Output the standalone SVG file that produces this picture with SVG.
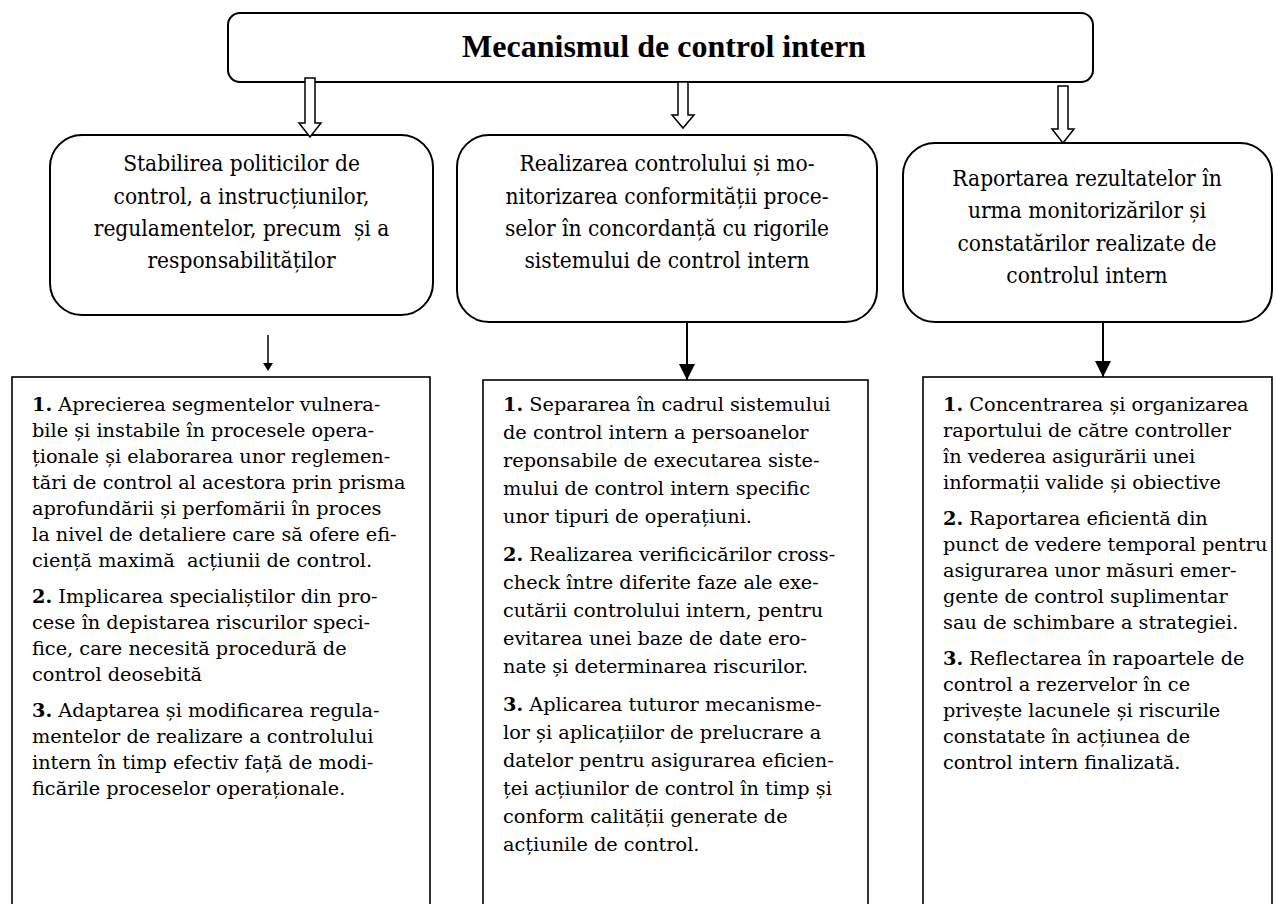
<svg xmlns="http://www.w3.org/2000/svg" width="1277" height="904" viewBox="0 0 1277 904">
<defs>
<style>
.box{fill:#fff;stroke:#000;stroke-width:2}
.rbox{fill:#fff;stroke:#000;stroke-width:1.6}
.title{font-family:'Liberation Serif',serif;font-weight:bold;font-size:32px;fill:#000;text-anchor:middle}
.up{font-family:'DejaVu Serif Condensed','DejaVu Serif',serif;font-size:22.5px;fill:#000;text-anchor:middle}
.bt{font-family:'DejaVu Serif',serif;font-size:19.3px;fill:#000}
.n{font-weight:bold}
.hollow{fill:#fff;stroke:#000;stroke-width:1.5;stroke-linejoin:miter}
.solid{stroke:#000;stroke-width:2;fill:none}
</style>
<marker id="ah" markerUnits="userSpaceOnUse" markerWidth="16" markerHeight="16" refX="14" refY="7" orient="auto" viewBox="0 0 14 14">
<path d="M0,0 L14,7 L0,14 Z" fill="#000"/>
</marker>
</defs>

<g id="node-title">
<rect class="box" x="228" y="13" width="865" height="69" rx="12"/>
<text class="title" x="664" y="57">Mecanismul de control intern</text>
</g>

<g id="node-politici">
<rect class="box" x="50" y="135" width="383" height="180" rx="32"/>
<text class="up" x="241.5" y="171">Stabilirea politicilor de</text>
<text class="up" x="241.5" y="204">control, a instrucțiunilor,</text>
<text class="up" x="241.5" y="236" xml:space="preserve">regulamentelor, precum  și a</text>
<text class="up" x="241.5" y="268">responsabilităților</text>
</g>

<g id="node-realizarea">
<rect class="box" x="457" y="135" width="420" height="187" rx="32"/>
<text class="up" x="667" y="171">Realizarea controlului și mo-</text>
<text class="up" x="667" y="204">nitorizarea conformității proce-</text>
<text class="up" x="667" y="236">selor în concordanță cu rigorile</text>
<text class="up" x="667" y="268">sistemului de control intern</text>
</g>

<g id="node-raportarea">
<rect class="box" x="903" y="143" width="369" height="179" rx="32"/>
<text class="up" x="1087" y="186">Raportarea rezultatelor în</text>
<text class="up" x="1087" y="218">urma monitorizărilor și</text>
<text class="up" x="1087" y="251">constatărilor realizate de</text>
<text class="up" x="1087" y="283">controlul intern</text>
</g>

<g id="node-list1">
<rect class="rbox" x="12" y="377" width="418" height="540"/>
<text class="bt" x="32" y="411"><tspan class="n">1.</tspan> Aprecierea segmentelor vulnera-</text>
<text class="bt" x="32" y="437">bile și instabile în procesele opera-</text>
<text class="bt" x="32" y="463">ționale și elaborarea unor reglemen-</text>
<text class="bt" x="32" y="489">tări de control al acestora prin prisma</text>
<text class="bt" x="32" y="515">aprofundării și perfomării în proces</text>
<text class="bt" x="32" y="541">la nivel de detaliere care să ofere efi-</text>
<text class="bt" x="32" y="567" xml:space="preserve">ciență maximă  acțiunii de control.</text>
<text class="bt" x="32" y="603"><tspan class="n">2.</tspan> Implicarea specialiștilor din pro-</text>
<text class="bt" x="32" y="629">cese în depistarea riscurilor speci-</text>
<text class="bt" x="32" y="655">fice, care necesită procedură de</text>
<text class="bt" x="32" y="681">control deosebită</text>
<text class="bt" x="32" y="717"><tspan class="n">3.</tspan> Adaptarea și modificarea regula-</text>
<text class="bt" x="32" y="743">mentelor de realizare a controlului</text>
<text class="bt" x="32" y="769">intern în timp efectiv față de modi-</text>
<text class="bt" x="32" y="795">ficările proceselor operaționale.</text>
</g>

<g id="node-list2">
<rect class="rbox" x="483" y="380" width="385" height="540"/>
<text class="bt" x="503" y="411"><tspan class="n">1.</tspan> Separarea în cadrul sistemului</text>
<text class="bt" x="503" y="439">de control intern a persoanelor</text>
<text class="bt" x="503" y="467">reponsabile de executarea siste-</text>
<text class="bt" x="503" y="495">mului de control intern specific</text>
<text class="bt" x="503" y="523">unor tipuri de operațiuni.</text>
<text class="bt" x="503" y="561"><tspan class="n">2.</tspan> Realizarea verificicărilor cross-</text>
<text class="bt" x="503" y="589">check între diferite faze ale exe-</text>
<text class="bt" x="503" y="617">cutării controlului intern, pentru</text>
<text class="bt" x="503" y="645">evitarea unei baze de date ero-</text>
<text class="bt" x="503" y="673">nate și determinarea riscurilor.</text>
<text class="bt" x="503" y="711"><tspan class="n">3.</tspan> Aplicarea tuturor mecanisme-</text>
<text class="bt" x="503" y="739">lor și aplicațiilor de prelucrare a</text>
<text class="bt" x="503" y="767">datelor pentru asigurarea eficien-</text>
<text class="bt" x="503" y="795">ței acțiunilor de control în timp și</text>
<text class="bt" x="503" y="823">conform calității generate de</text>
<text class="bt" x="503" y="851">acțiunile de control.</text>
</g>

<g id="node-list3">
<rect class="rbox" x="923" y="377" width="349" height="540"/>
<text class="bt" x="943" y="411"><tspan class="n">1.</tspan> Concentrarea și organizarea</text>
<text class="bt" x="943" y="437">raportului de către controller</text>
<text class="bt" x="943" y="463">în vederea asigurării unei</text>
<text class="bt" x="943" y="489">informații valide și obiective</text>
<text class="bt" x="943" y="525"><tspan class="n">2.</tspan> Raportarea eficientă din</text>
<text class="bt" x="943" y="551">punct de vedere temporal pentru</text>
<text class="bt" x="943" y="577">asigurarea unor măsuri emer-</text>
<text class="bt" x="943" y="603">gente de control suplimentar</text>
<text class="bt" x="943" y="629">sau de schimbare a strategiei.</text>
<text class="bt" x="943" y="665"><tspan class="n">3.</tspan> Reflectarea în rapoartele de</text>
<text class="bt" x="943" y="691">control a rezervelor în ce</text>
<text class="bt" x="943" y="717">privește lacunele și riscurile</text>
<text class="bt" x="943" y="743">constatate în acțiunea de</text>
<text class="bt" x="943" y="769">control intern finalizată.</text>
</g>

<g id="connectors">
<path class="hollow" d="M305,78 H315 V123 H321 L310,137 L299,123 H305 Z"/>
<path class="hollow" d="M678,82 H688 V115 H694 L683,128 L672,115 H678 Z"/>
<path class="hollow" d="M1058,86 H1068 V129 H1074 L1063,143 L1052,129 H1058 Z"/>
<line x1="268" y1="335" x2="268" y2="364" stroke="#000" stroke-width="1.5"/>
<path d="M263,363 L273,363 L268,371 Z" fill="#000"/>
<line class="solid" x1="687" y1="322" x2="687" y2="380" marker-end="url(#ah)"/>
<line class="solid" x1="1103" y1="322" x2="1103" y2="377" marker-end="url(#ah)"/>
</g>
</svg>
